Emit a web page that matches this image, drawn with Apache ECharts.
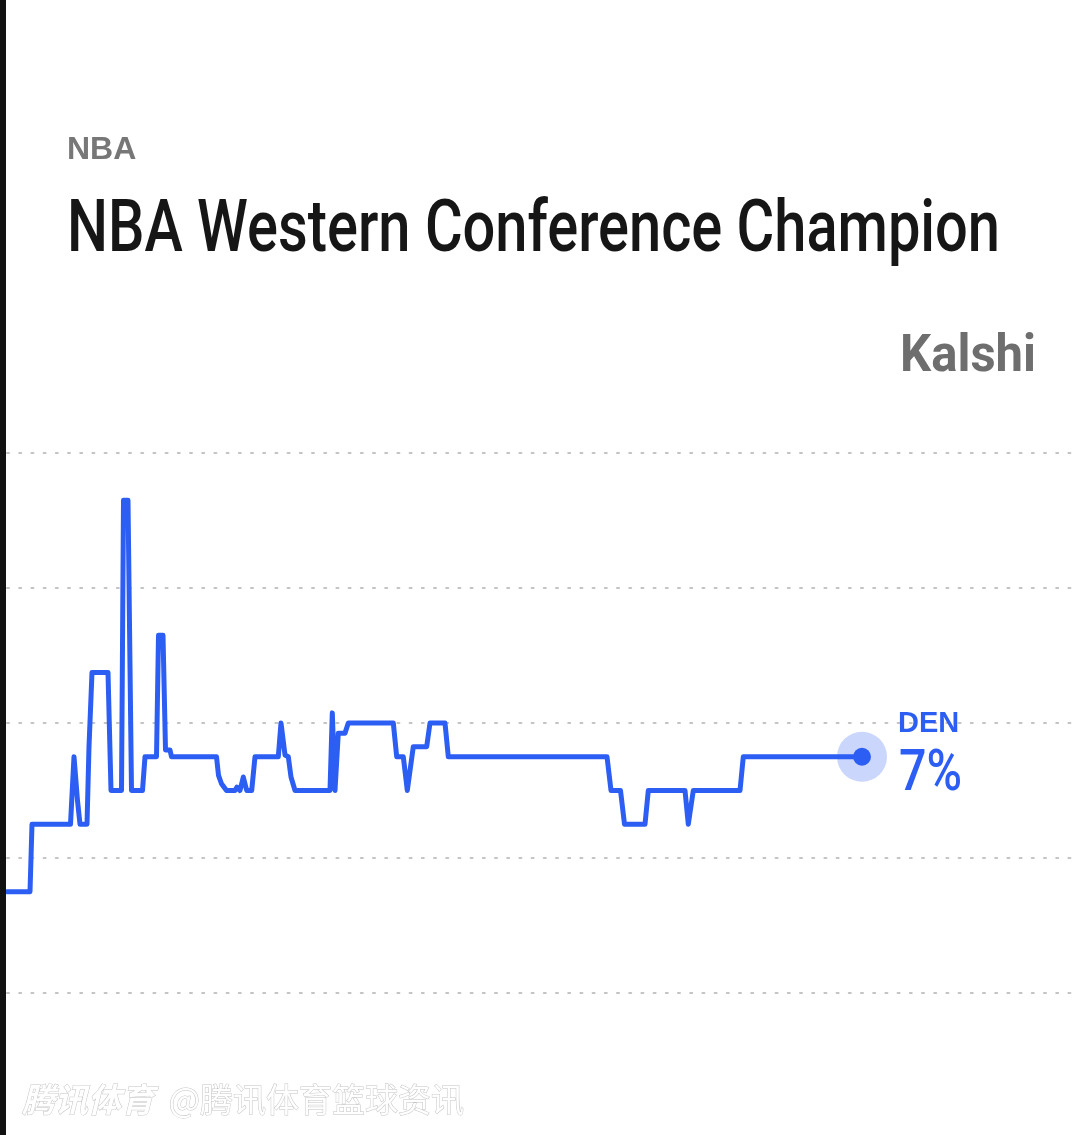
<!DOCTYPE html>
<html>
<head>
<meta charset="utf-8">
<script src="https://cdn.jsdelivr.net/npm/echarts@6/dist/echarts.min.js"></script>
<style>
html,body{margin:0;padding:0;background:#fff;}
#chart{width:1080px;height:1135px;}
</style>
</head>
<body>
<div id="chart"></div>
<script>
// Time index (arbitrary units along the x axis) and DEN price (%)
var times = [0, 23, 25, 63.5, 67, 70.5, 73, 80, 82, 85,
  101, 104, 114.5, 116.5, 121, 124.5, 135.5, 138, 149.5, 151.5,
  156, 158.5, 163, 164.5, 209.5, 211.5, 214.5, 219.5, 228, 230,
  233, 236.3, 239.7, 244.7, 248, 271.3, 274, 278, 281.3, 284,
  288, 323, 325.3, 328, 331.3, 338, 341.3, 386.3, 389.7, 396.3,
  400.3, 406.3, 419.7, 423, 438, 441.3, 600, 604, 613.5, 617.5,
  638, 641.3, 678, 681.3, 686.3, 733, 736.3, 855];
var prices = [3, 3, 5, 5, 7, 5.7, 5, 5, 7.3, 9.5,
  9.5, 6, 6, 14.6, 14.6, 6, 6, 7, 7, 10.6,
  10.6, 7.2, 7.2, 7, 7, 6.45, 6.2, 6, 6, 6.1,
  6, 6.4, 6, 6, 7, 7, 8, 7.05, 7, 6.4,
  6, 6, 8.3, 6, 7.7, 7.7, 8, 8, 7, 7,
  6, 7.3, 7.3, 8, 8, 7, 7, 6, 6, 5,
  5, 6, 6, 5, 6, 6, 7, 7];
var yTicks = [0, 4, 8, 12, 16];
var team = 'DEN';
var category = 'NBA';
var titleText = 'NBA Western Conference Champion';
var brand = 'Kalshi';
var watermarkA = '腾讯体育';
var watermarkB = '@腾讯体育篮球资讯';

var lineData = times.map(function (t, i) { return [t, prices[i]]; });
var last = lineData[lineData.length - 1];
var blue = '#2c5ef4';

var measureCtx = document.createElement('canvas').getContext('2d');
function textWidth(txt, font) { measureCtx.font = font; return measureCtx.measureText(txt).width; }
var SANS = "'Liberation Sans', Arial, sans-serif";
var ROBO = "Roboto, 'Liberation Sans', sans-serif";

var chart = echarts.init(document.getElementById('chart'), null, {renderer: 'canvas'});
chart.setOption({
  backgroundColor: '#ffffff',
  animation: false,
  grid: {left: 7, right: 5, top: 453, bottom: 142, containLabel: false},
  xAxis: {
    type: 'value', min: 0, max: 1068,
    axisLine: {show: false}, axisTick: {show: false}, axisLabel: {show: false},
    splitLine: {show: false}
  },
  yAxis: {
    type: 'value', min: yTicks[0], max: yTicks[yTicks.length - 1], interval: yTicks[1] - yTicks[0],
    axisLine: {show: false}, axisTick: {show: false}, axisLabel: {show: false},
    splitLine: {show: true, lineStyle: {color: '#c4c4c4', width: 2, type: [2, 10.2], cap: 'round'}}
  },
  series: [
    {
      type: 'line', data: lineData, showSymbol: false, smooth: false,
      lineStyle: {color: blue, width: 5, join: 'round', cap: 'round'},
      z: 3
    },
    {
      type: 'scatter', data: [last], symbolSize: 50,
      itemStyle: {color: '#cad6fb', opacity: 1}, z: 2, silent: true
    },
    {
      type: 'scatter', data: [last], symbolSize: 18,
      itemStyle: {color: blue, opacity: 1}, z: 4, silent: true
    }
  ]
});

var pt = chart.convertToPixel({gridIndex: 0}, last);
var titleFont = '500 72px ' + ROBO;
var titleScale = 933 / textWidth(titleText, titleFont);
var brandFont = 'bold 52px ' + ROBO;
var brandScale = 136 / textWidth(brand, brandFont);
var pctText = last[1] + '%';
var pctFont = '500 58px ' + ROBO;
var pctScale = 63 / textWidth(pctText, pctFont);

chart.setOption({
  graphic: [
    {type: 'rect', shape: {x: 0, y: 0, width: 6, height: 1135}, style: {fill: '#111111'}, z: 10},
    {type: 'text', x: 67, y: 150, style: {text: category, font: 'bold 32px ' + SANS, fill: '#777777', verticalAlign: 'middle'}},
    {type: 'text', x: 67, y: 233, scaleX: titleScale, style: {text: titleText, font: titleFont, fill: '#161616', verticalAlign: 'middle'}},
    {type: 'text', x: 1036, y: 357.5, scaleX: brandScale, style: {text: brand, font: brandFont, fill: '#6e6e6e', align: 'right', verticalAlign: 'middle'}},
    {type: 'text', x: pt[0] + 36, y: pt[1] - 33, style: {text: team, font: 'bold 29px ' + SANS, fill: blue, verticalAlign: 'middle'}},
    {type: 'text', x: pt[0] + 37, y: pt[1] + 19, scaleX: pctScale, style: {text: pctText, font: pctFont, fill: blue, verticalAlign: 'middle'}},
    {type: 'text', x: 22, y: 1099, style: {
      text: '{i|' + watermarkA + '}{n|  ' + watermarkB + '}',
      verticalAlign: 'middle',
      rich: {
        i: {fontFamily: 'Noto Sans CJK SC', fontStyle: 'italic', fontWeight: 'bold', fontSize: 33, fill: '#ffffff', stroke: '#c4c4c4', lineWidth: 1},
        n: {fontFamily: 'Noto Sans CJK SC', fontSize: 33, fill: '#ffffff', stroke: '#c4c4c4', lineWidth: 1}
      }
    }}
  ]
});
</script>
</body>
</html>
